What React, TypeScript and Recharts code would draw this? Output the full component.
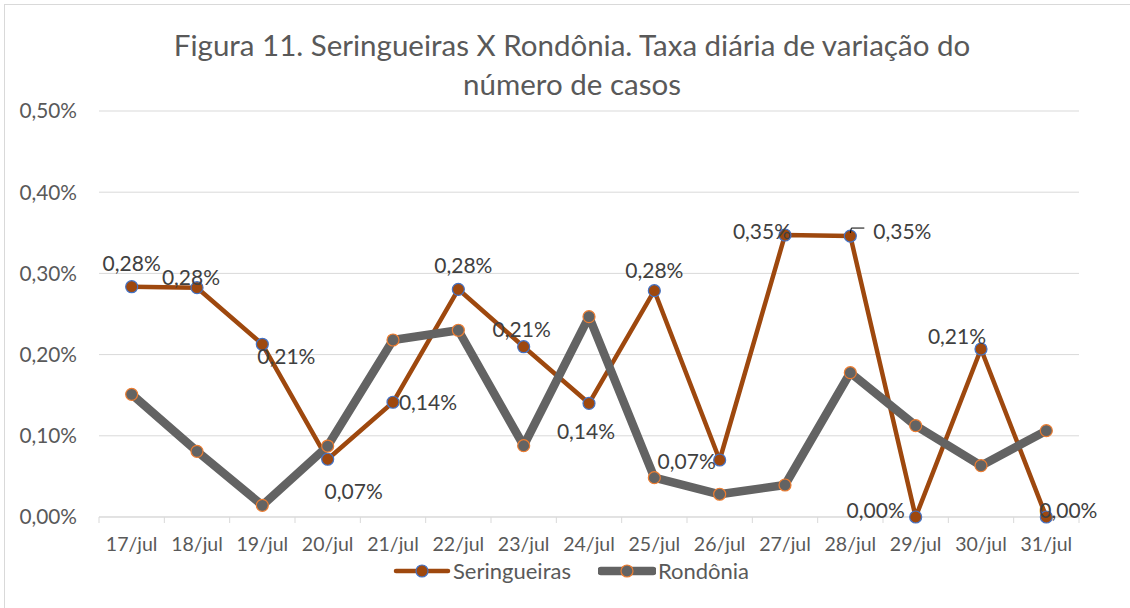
import { LineChart, Line, XAxis, YAxis, CartesianGrid, LabelList } from 'recharts';

const days = ['17/jul', '18/jul', '19/jul', '20/jul', '21/jul', '22/jul', '23/jul', '24/jul', '25/jul', '26/jul', '27/jul', '28/jul', '29/jul', '30/jul', '31/jul'];
// daily variation, in percent
const seringueiras = [0.2836, 0.2824, 0.2127, 0.0711, 0.1413, 0.2804, 0.2097, 0.140, 0.2787, 0.0702, 0.3473, 0.346, 0, 0.2069, 0];
const rondonia = [0.1511, 0.0809, 0.0144, 0.0874, 0.218, 0.230, 0.0878, 0.2467, 0.0484, 0.028, 0.0394, 0.1777, 0.1125, 0.0632, 0.1063];
const yTicks = [0, 0.1, 0.2, 0.3, 0.4, 0.5];

// where each data label sits relative to its point (text centre), as Excel placed them
const labelOffsets: [number, number][] = [
  [0, -23], [-6, -10], [24, 12], [26, 32], [35, 0], [5, -24], [-2, -17], [-3, 28],
  [0, -20], [-33, 2], [-23, -3], [52, -4], [-40, -6], [-24, -12], [22, -6],
];
const leaderAt = 11;

const W = 1130;
const H = 608;
const PLOT_LEFT = 99;
const PLOT_RIGHT = 1079;
const FONT = 'Lato, "Noto Sans", sans-serif';

const data = days.map((d, i) => ({ day: d, seringueiras: seringueiras[i], rondonia: rondonia[i] }));

const pct = (v: number) => v.toFixed(2).replace('.', ',') + '%';

const band = (PLOT_RIGHT - PLOT_LEFT) / days.length;

const DayTick = (props: any) => {
  const { x, y, payload, index } = props;
  const left = x - band / 2;
  return (
    <g>
      <line x1={left} y1={y} x2={left} y2={y + 6} stroke="#D9D9D9" />
      {index === days.length - 1 && <line x1={x + band / 2} y1={y} x2={x + band / 2} y2={y + 6} stroke="#D9D9D9" />}
      <text x={x} y={y + 34} textAnchor="middle" fill="#595959" fontSize={19.5} fontFamily={FONT}>
        {payload.value}
      </text>
    </g>
  );
};

const SerLabel = (props: any) => {
  const { x, y, value, index } = props;
  const [dx, dy] = labelOffsets[index] || [0, -20];
  return (
    <g>
      {index === leaderAt && (
        <polyline points={`${x},${y - 3} ${x + 1},${y - 8} ${x + 14},${y - 8}`} fill="none" stroke="#000" strokeWidth={1} />
      )}
      <text x={x + dx} y={y + dy} dy="0.35em" textAnchor="middle" fill="#404040" fontSize={21} fontFamily={FONT}>
        {pct(value)}
      </text>
    </g>
  );
};

const LegendIcon = ({ line, fill, stroke, width }: { line: string; fill: string; stroke: string; width: number }) => (
  <svg width={58} height={16} style={{ verticalAlign: 'middle' }}>
    <line x1={3} y1={8} x2={55} y2={8} stroke={line} strokeWidth={width} strokeLinecap="round" />
    <circle cx={29} cy={8} r={6} fill={fill} stroke={stroke} strokeWidth={1.2} />
  </svg>
);

export default function App() {
  return (
    <div style={{ position: 'absolute', left: 0, top: 0, width: W, height: H, overflow: 'hidden', background: '#fff' }}>
      <div style={{ position: 'absolute', left: 4, top: 4, width: W + 20, height: H + 20, border: '1px solid #D9D9D9' }} />
      <div
        style={{
          position: 'absolute', left: 572, top: 25, transform: 'translateX(-50%)', width: 900,
          textAlign: 'center', fontFamily: FONT, fontSize: 29.5, lineHeight: '39px', color: '#595959',
        }}
      >
        Figura 11. Seringueiras X Rondônia. Taxa diária de variação do
        <br />
        número de casos
      </div>
      <div style={{ position: 'absolute', left: 0, top: 0 }}>
        <LineChart width={W} height={H} data={data} margin={{ top: 111, right: W - PLOT_RIGHT, bottom: 0, left: 0 }}>
          <CartesianGrid vertical={false} stroke="#D9D9D9" />
          <XAxis
            dataKey="day"
            scale="band"
            height={91}
            axisLine={{ stroke: '#D9D9D9' }}
            tickLine={false}
            tickSize={0}
            tickMargin={0}
            interval={0}
            tick={<DayTick />}
          />
          <YAxis
            width={PLOT_LEFT}
            domain={[0, 0.5]}
            ticks={yTicks}
            tickFormatter={pct}
            axisLine={false}
            tickLine={false}
            tickSize={0}
            tickMargin={22}
            tick={{ fill: '#595959', fontSize: 20.8, fontFamily: FONT }}
          />
          <Line
            dataKey="seringueiras"
            stroke="#9E480E"
            strokeWidth={4.5}
            strokeLinejoin="round"
            dot={{ r: 6, fill: '#9E480E', stroke: '#4472C4', strokeWidth: 1.2 }}
            activeDot={false}
            isAnimationActive={false}
          />
          <Line
            dataKey="rondonia"
            stroke="#636363"
            strokeWidth={8.5}
            strokeLinejoin="round"
            dot={{ r: 6, fill: '#636363', stroke: '#ED7D31', strokeWidth: 1.2 }}
            activeDot={false}
            isAnimationActive={false}
          />
          {/* invisible copy of Seringueiras so its labels sit above both lines */}
          <Line dataKey="seringueiras" stroke="none" dot={false} activeDot={false} isAnimationActive={false}>
            <LabelList dataKey="seringueiras" content={<SerLabel />} />
          </Line>
        </LineChart>
      </div>
      <div
        style={{
          position: 'absolute', left: 393, top: 557, display: 'flex', alignItems: 'center',
          fontFamily: FONT, fontSize: 22, color: '#595959', whiteSpace: 'nowrap',
        }}
      >
        <LegendIcon line="#9E480E" fill="#9E480E" stroke="#4472C4" width={4.5} />
        <span style={{ marginLeft: 2 }}>Seringueiras</span>
        <span style={{ width: 27 }} />
        <LegendIcon line="#636363" fill="#636363" stroke="#ED7D31" width={8.5} />
        <span style={{ marginLeft: 2 }}>Rondônia</span>
      </div>
    </div>
  );
}
